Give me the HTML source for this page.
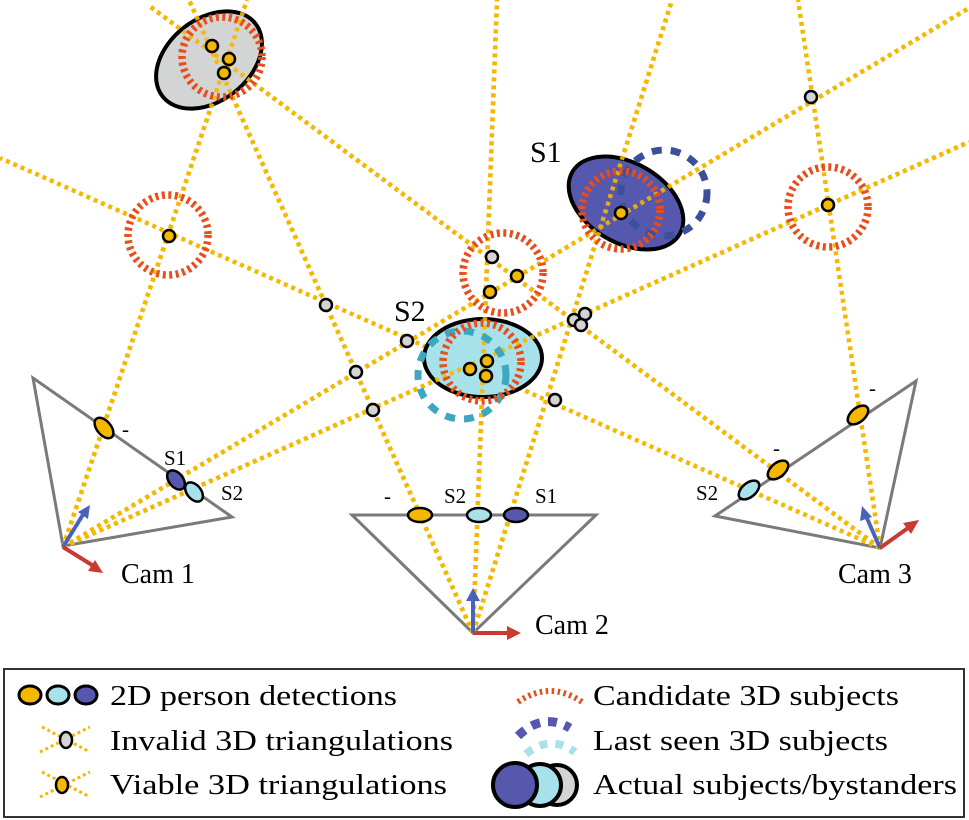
<!DOCTYPE html>
<html><head><meta charset="utf-8"><style>
html,body{margin:0;padding:0;background:#fff;}
svg{display:block;}
</style></head><body>
<svg width="969" height="820" viewBox="0 0 969 820" xmlns="http://www.w3.org/2000/svg" font-family="'Liberation Serif', 'DejaVu Serif', serif">
<g fill="none" stroke="#7a7a7a" stroke-width="3">
<polygon points="33,378 63,546 232,517"/>
<polygon points="352,515 596,515 473,633"/>
<polygon points="916,381 880,548 715,516"/>
</g>
<g stroke="#f5b800" stroke-width="4.5" stroke-dasharray="4 4" fill="none">
<line x1="63" y1="547" x2="247" y2="0"/>
<line x1="63" y1="547" x2="969" y2="8"/>
<line x1="63" y1="547" x2="969" y2="142"/>
<line x1="473" y1="633" x2="189" y2="0"/>
<line x1="473" y1="633" x2="497" y2="0"/>
<line x1="473" y1="633" x2="672" y2="0"/>
<line x1="880" y1="548" x2="798" y2="0"/>
<line x1="880" y1="548" x2="148" y2="5"/>
<line x1="880" y1="548" x2="0" y2="158"/>
</g>
<ellipse cx="209" cy="60" rx="59" ry="41" transform="rotate(-38 209 60)" fill="#d3d4d4" stroke="#000" stroke-width="4"/>
<ellipse cx="626" cy="203" rx="62" ry="40" transform="rotate(30 626 203)" fill="#5558ad" stroke="#000" stroke-width="4"/>
<ellipse cx="483" cy="358" rx="59" ry="39" fill="#a7e2ea" stroke="#000" stroke-width="4"/>
<g stroke="#f5b800" stroke-width="4.5" stroke-dasharray="4 4" fill="none" opacity="0.9">
<line x1="63" y1="547" x2="247" y2="0"/>
<line x1="63" y1="547" x2="969" y2="8"/>
<line x1="63" y1="547" x2="969" y2="142"/>
<line x1="473" y1="633" x2="189" y2="0"/>
<line x1="473" y1="633" x2="497" y2="0"/>
<line x1="473" y1="633" x2="672" y2="0"/>
<line x1="880" y1="548" x2="148" y2="5"/>
</g>
<circle cx="664" cy="193" r="43" fill="none" stroke="#3c4f9a" stroke-width="7" stroke-dasharray="10 9"/>
<circle cx="462" cy="375" r="44" fill="none" stroke="#3ea6bf" stroke-width="7" stroke-dasharray="10 9"/>
<g fill="none" stroke="#e84d1c" stroke-width="7.5" stroke-dasharray="3 3.5">
<circle cx="222" cy="57" r="40"/>
<circle cx="168" cy="235" r="40"/>
<circle cx="503" cy="273" r="40"/>
<circle cx="621" cy="210" r="39"/>
<circle cx="828" cy="207" r="40"/>
<circle cx="482" cy="362" r="39"/>
</g>
<g stroke="#000" stroke-width="2.5">
<g fill="#d4d4d4">
<circle cx="326" cy="305" r="6"/><circle cx="407" cy="341" r="6"/><circle cx="356" cy="372" r="6"/>
<circle cx="373" cy="410" r="6"/><circle cx="555" cy="400" r="6"/><circle cx="811" cy="97" r="6"/>
<circle cx="492" cy="257" r="6"/><circle cx="574" cy="320" r="6"/><circle cx="585" cy="314" r="6"/><circle cx="581" cy="325" r="6"/>
</g>
<g fill="#f5b800">
<circle cx="212" cy="46" r="6"/><circle cx="229" cy="59" r="6"/><circle cx="224" cy="73" r="6"/>
<circle cx="169" cy="236" r="6"/><circle cx="517" cy="276" r="6"/><circle cx="490" cy="292" r="6"/>
<circle cx="621" cy="213" r="6"/><circle cx="828" cy="205" r="6"/>
<circle cx="470" cy="369" r="6"/><circle cx="487" cy="361" r="6"/><circle cx="486" cy="376" r="6"/>
</g>
<ellipse cx="104" cy="428" rx="12" ry="7" transform="rotate(50 104 428)" fill="#f5b800"/>
<ellipse cx="176" cy="480" rx="11" ry="7" transform="rotate(50 176 480)" fill="#5558ad"/>
<ellipse cx="194" cy="492" rx="11" ry="7" transform="rotate(50 194 492)" fill="#a7e2ea"/>
<ellipse cx="420" cy="515" rx="12" ry="7" fill="#f5b800"/>
<ellipse cx="479" cy="515" rx="12" ry="7" fill="#a7e2ea"/>
<ellipse cx="516" cy="515" rx="12" ry="7" fill="#5558ad"/>
<ellipse cx="858" cy="415" rx="12" ry="7" transform="rotate(-40 858 415)" fill="#f5b800"/>
<ellipse cx="778" cy="470" rx="12" ry="7" transform="rotate(-40 778 470)" fill="#f5b800"/>
<ellipse cx="749" cy="490" rx="12" ry="7" transform="rotate(-40 749 490)" fill="#a7e2ea"/>
</g>
<g stroke-width="4" fill="none">
<line x1="63" y1="547" x2="84" y2="513" stroke="#4a63b8"/><polygon points="90,505 78,512 88,519" fill="#4a63b8" stroke="none"/>
<line x1="63" y1="547" x2="92" y2="565" stroke="#c83a32"/><polygon points="103,573 88,571 95,560" fill="#c83a32" stroke="none"/>
<line x1="473" y1="633" x2="473" y2="598" stroke="#4a63b8"/><polygon points="473,588 466,601 480,601" fill="#4a63b8" stroke="none"/>
<line x1="473" y1="633" x2="508" y2="633" stroke="#c83a32"/><polygon points="521,633 507,626 507,640" fill="#c83a32" stroke="none"/>
<line x1="880" y1="548" x2="866" y2="516" stroke="#4a63b8"/><polygon points="862,506 860,521 872,517" fill="#4a63b8" stroke="none"/>
<line x1="880" y1="548" x2="908" y2="528" stroke="#c83a32"/><polygon points="919,520 903,523 911,534" fill="#c83a32" stroke="none"/>
</g>
<g fill="#000">
<text x="530" y="162" font-size="30">S1</text>
<text x="394" y="321" font-size="30">S2</text>
<g font-size="21">
<text x="164" y="465">S1</text><text x="221" y="500">S2</text><text x="122" y="436">-</text>
<text x="384" y="503">-</text><text x="444" y="503">S2</text><text x="535" y="503">S1</text>
<text x="869" y="395">-</text><text x="773" y="455">-</text><text x="696" y="500">S2</text>
</g>
<g font-size="28">
<text x="121" y="583">Cam 1</text>
<text x="535" y="634">Cam 2</text>
<text x="838" y="583">Cam 3</text>
</g>
</g>
<rect x="4" y="669" width="960" height="148" fill="none" stroke="#333" stroke-width="2"/>
<g stroke="#000" stroke-width="3">
<ellipse cx="30" cy="695" rx="11" ry="9" fill="#f5b800"/>
<ellipse cx="58" cy="695" rx="11" ry="9" fill="#a7e2ea"/>
<ellipse cx="86" cy="695" rx="11" ry="9" fill="#5558ad"/>
</g>
<g stroke="#f5b800" stroke-width="3" stroke-dasharray="3 3">
<line x1="42" y1="727" x2="90" y2="752"/><line x1="40" y1="752" x2="90" y2="727"/>
<line x1="42" y1="772" x2="90" y2="797"/><line x1="40" y1="797" x2="90" y2="772"/>
</g>
<ellipse cx="66" cy="740" rx="6" ry="8" fill="#d4d4d4" stroke="#000" stroke-width="2.5"/>
<ellipse cx="62" cy="785" rx="6" ry="8" fill="#f5b800" stroke="#000" stroke-width="2.5"/>
<path d="M518,702 Q550,680 582,702" fill="none" stroke="#e84d1c" stroke-width="6" stroke-dasharray="2.5 3.5"/>
<path d="M518,736 Q543,712 570,728" fill="none" stroke="#5558ad" stroke-width="9" stroke-dasharray="9 8"/>
<path d="M526,754 Q550,734 575,752" fill="none" stroke="#a7e2ea" stroke-width="8" stroke-dasharray="8 8"/>
<circle cx="557" cy="785" r="20" fill="#d3d4d4" stroke="#000" stroke-width="4"/>
<circle cx="540" cy="785" r="21" fill="#a7e2ea" stroke="#000" stroke-width="4"/>
<circle cx="515" cy="785" r="22" fill="#5558ad" stroke="#000" stroke-width="4"/>
<g font-size="28" fill="#000">
<text x="110" y="705" textLength="287" lengthAdjust="spacingAndGlyphs">2D person detections</text>
<text x="110" y="750" textLength="343" lengthAdjust="spacingAndGlyphs">Invalid 3D triangulations</text>
<text x="110" y="794" textLength="337" lengthAdjust="spacingAndGlyphs">Viable 3D triangulations</text>
<text x="593" y="705" textLength="306" lengthAdjust="spacingAndGlyphs">Candidate 3D subjects</text>
<text x="593" y="750" textLength="295" lengthAdjust="spacingAndGlyphs">Last seen 3D subjects</text>
<text x="593" y="794" textLength="364" lengthAdjust="spacingAndGlyphs">Actual subjects/bystanders</text>
</g>
</svg>
</body></html>
